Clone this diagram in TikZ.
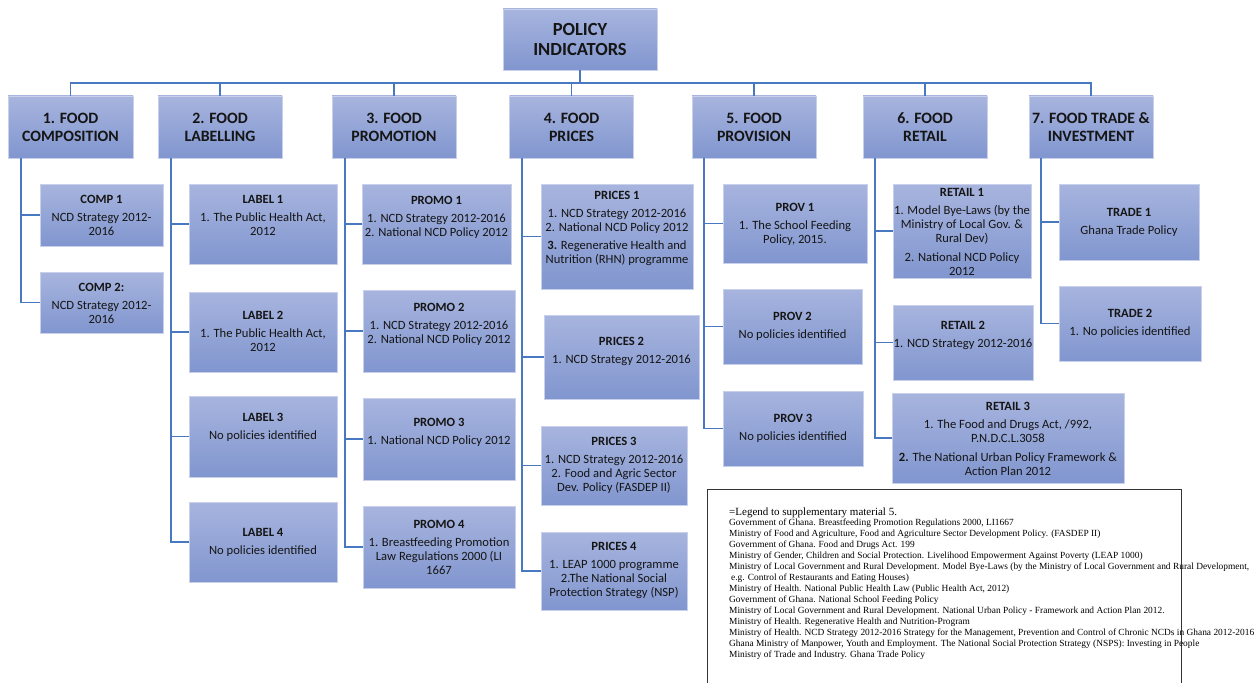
\documentclass[tikz,border=0pt]{standalone}
\usepackage{fontspec}
\setmainfont{Carlito}
\newfontfamily\legfont{Liberation Serif}
\usetikzlibrary{calc}
\definecolor{boxtop}{HTML}{A7B4DE}
\definecolor{boxbot}{HTML}{8196CF}
\definecolor{boxedge}{HTML}{C8D0EC}
\definecolor{connc}{HTML}{4878C0}
\definecolor{txt}{HTML}{151515}
\tikzset{
  basebox/.style={rectangle, draw=boxedge, line width=0.8pt, top color=boxtop, bottom color=boxbot, inner sep=0pt},
  topbox/.style={basebox, align=center, text=txt, font=\fontsize{18.5}{20.5}\selectfont\bfseries},
  catbox/.style={basebox, minimum width=124pt, minimum height=62pt, align=center, text=txt, font=\fontsize{15.8}{18}\selectfont\bfseries},
  cbox/.style={basebox},
  ctext/.style={inner sep=0pt, align=center, text=txt, font=\fontsize{12.6}{14}\selectfont},
  conn/.style={draw=connc, line width=1.8pt},
  legbox/.style={draw=black!80, line width=1.2pt},
  legtext/.style={inner sep=0pt, anchor=north west, align=left, text=black, font=\legfont\fontsize{9.4}{10.95}\selectfont}
}
\newcommand\mkbox[7]{%
  \node[cbox, minimum width={#4-#2}, minimum height={#5-#3}] (#1) at ({(#2+#4)/2},{(#3+#5)/2}) {};
  \node[ctext] (#1t) at ({(#2+#4)/2},#6) {#7};}
\begin{document}
\begin{tikzpicture}[x=1pt,y=-1pt]
\useasboundingbox[fill=white] (0,0) rectangle (1257,682);
% top
\node[topbox, minimum width=154pt, minimum height=61pt] (policy) at (580,39.5) {POLICY\\INDICATORS};
% categories
\node[catbox, minimum width=125pt] (l1) at (70.5,127) {1. FOOD\\COMPOSITION};
\node[catbox] (l2) at (220,127) {2. FOOD\\LABELLING};
\node[catbox] (l3) at (394,127) {3. FOOD\\PROMOTION};
\node[catbox] (l4) at (571.5,127) {4. FOOD\\PRICES};
\node[catbox] (l5) at (754,127) {5. FOOD\\PROVISION};
\node[catbox] (l6) at (925,127) {6. FOOD\\RETAIL};
\node[catbox] (l7) at (1091,127) {7. FOOD TRADE \&\\INVESTMENT};
\coordinate (bus) at (580,83);
\foreach \i in {1,...,7} {\draw[conn] (policy.south) -- (bus) -| (l\i.north);}
% children
\mkbox{comp1}{40}{184}{163}{246}{215}{\textbf{COMP 1}\\[4pt]NCD Strategy 2012-\\2016}
\mkbox{comp2}{40}{272}{163}{333}{303}{\textbf{COMP 2:}\\[4pt]NCD Strategy 2012-\\2016}
\mkbox{label1}{189}{184}{337}{264}{215}{\textbf{LABEL 1}\\[4pt]1. The Public Health Act,\\2012}
\mkbox{label2}{189}{292}{337}{372}{331.5}{\textbf{LABEL 2}\\[4pt]1. The Public Health Act,\\2012}
\mkbox{label3}{189}{396}{337}{477}{427}{\textbf{LABEL 3}\\[4pt]No policies identified}
\mkbox{label4}{189}{502}{337}{582}{542}{\textbf{LABEL 4}\\[4pt]No policies identified}
\mkbox{promo1}{362}{184}{511}{264}{217}{\textbf{PROMO 1}\\[4pt]1. NCD Strategy 2012-2016\\2. National NCD Policy 2012}
\mkbox{promo2}{363}{290}{515}{372}{324}{\textbf{PROMO 2}\\[4pt]1. NCD Strategy 2012-2016\\2. National NCD Policy 2012}
\mkbox{promo3}{363}{398}{515}{480}{432}{\textbf{PROMO 3}\\[4pt]1. National NCD Policy 2012}
\mkbox{promo4}{363}{506}{515}{588}{547}{\textbf{PROMO 4}\\[4pt]1. Breastfeeding Promotion\\Law Regulations 2000 (LI\\1667}
\mkbox{prices1}{541}{184}{693}{289}{228}{\textbf{PRICES 1}\\[4pt]1. NCD Strategy 2012-2016\\2. National NCD Policy 2012\\[4pt]\textbf{3.} Regenerative Health and\\Nutrition (RHN) programme}
\mkbox{prices2}{544}{315}{699}{399}{351}{\textbf{PRICES 2}\\[4pt]1. NCD Strategy 2012-2016}
\mkbox{prices3}{541}{426}{687}{505}{465}{\textbf{PRICES 3}\\[4pt]1. NCD Strategy 2012-2016\\2. Food and Agric Sector\\Dev. Policy (FASDEP II)}
\mkbox{prices4}{541}{532}{687}{610}{570}{\textbf{PRICES 4}\\[4pt]1. LEAP 1000 programme\\2.The National Social\\Protection Strategy (NSP)}
\mkbox{prov1}{723}{184}{867}{263}{224}{\textbf{PROV 1}\\[4pt]1. The School Feeding\\Policy, 2015.}
\mkbox{prov2}{723}{289}{862}{364}{326.5}{\textbf{PROV 2}\\[4pt]No policies identified}
\mkbox{prov3}{723}{391}{863}{466}{428}{\textbf{PROV 3}\\[4pt]No policies identified}
\mkbox{retail1}{893}{184}{1031}{278}{231.5}{\textbf{RETAIL 1}\\[4pt]1. Model Bye-Laws (by the\\Ministry of Local Gov. \&\\Rural Dev)\\[5pt]2. National NCD Policy\\2012}
\mkbox{retail2}{893}{305}{1033}{380}{335}{\textbf{RETAIL 2}\\[4pt]1. NCD Strategy 2012-2016}
\mkbox{retail3}{892}{393}{1124}{483}{438.5}{\textbf{RETAIL 3}\\[4pt]1. The Food and Drugs Act, /992,\\P.N.D.C.L.3058\\[5pt]\textbf{2.} The National Urban Policy Framework \&\\Action Plan 2012}
\mkbox{trade1}{1059}{184}{1199}{260}{222}{\textbf{TRADE 1}\\[4pt]Ghana Trade Policy}
\mkbox{trade2}{1059}{286}{1201}{361}{323.5}{\textbf{TRADE 2}\\[4pt]1. No policies identified}
% trunks
\foreach \c in {comp1,comp2} {\draw[conn] ($(l1.south west)+(13,0)$) |- (\c.west);}
\foreach \c in {label1,label2,label3,label4} {\draw[conn] ($(l2.south west)+(13,0)$) |- (\c.west);}
\foreach \c in {promo1,promo2,promo3,promo4} {\draw[conn] ($(l3.south west)+(13,0)$) |- (\c.west);}
\foreach \c in {prices1,prices2,prices3,prices4} {\draw[conn] ($(l4.south west)+(13,0)$) |- (\c.west);}
\foreach \c in {prov1,prov2,prov3} {\draw[conn] ($(l5.south west)+(12,0)$) |- (\c.west);}
\foreach \c in {retail1,retail2,retail3} {\draw[conn] ($(l6.south west)+(12,0)$) |- (\c.west);}
\foreach \c in {trade1,trade2} {\draw[conn] ($(l7.south west)+(12,0)$) |- (\c.west);}
% legend
\node[legbox, inner sep=0pt, minimum width=474pt, minimum height=220pt, anchor=north west] (legend) at (707,488.5) {};
\node[inner sep=0pt, anchor=north west, font=\legfont\fontsize{11}{13}\selectfont] (legtitle) at (729,507.5) {=Legend to supplementary material 5.};
\node[legtext] (legbody) at (729,518.8) {Government of Ghana. Breastfeeding Promotion Regulations 2000, LI1667\\
Ministry of Food and Agriculture, Food and Agriculture Sector Development Policy. (FASDEP II)\\
Government of Ghana. Food and Drugs Act. 199\\
Ministry of Gender, Children and Social Protection. Livelihood Empowerment Against Poverty (LEAP 1000)\\
Ministry of Local Government and Rural Development. Model Bye-Laws (by the Ministry of Local Government and Rural Development,\\
\hspace*{2pt}e.g. Control of Restaurants and Eating Houses)\\
Ministry of Health. National Public Health Law (Public Health Act, 2012)\\
Government of Ghana. National School Feeding Policy\\
Ministry of Local Government and Rural Development. National Urban Policy - Framework and Action Plan 2012.\\
Ministry of Health. Regenerative Health and Nutrition-Program\\
Ministry of Health. NCD Strategy 2012-2016 Strategy for the Management, Prevention and Control of Chronic NCDs in Ghana 2012-2016\\
Ghana Ministry of Manpower, Youth and Employment. The National Social Protection Strategy (NSPS): Investing in People\\
Ministry of Trade and Industry. Ghana Trade Policy};
\end{tikzpicture}
\end{document}
